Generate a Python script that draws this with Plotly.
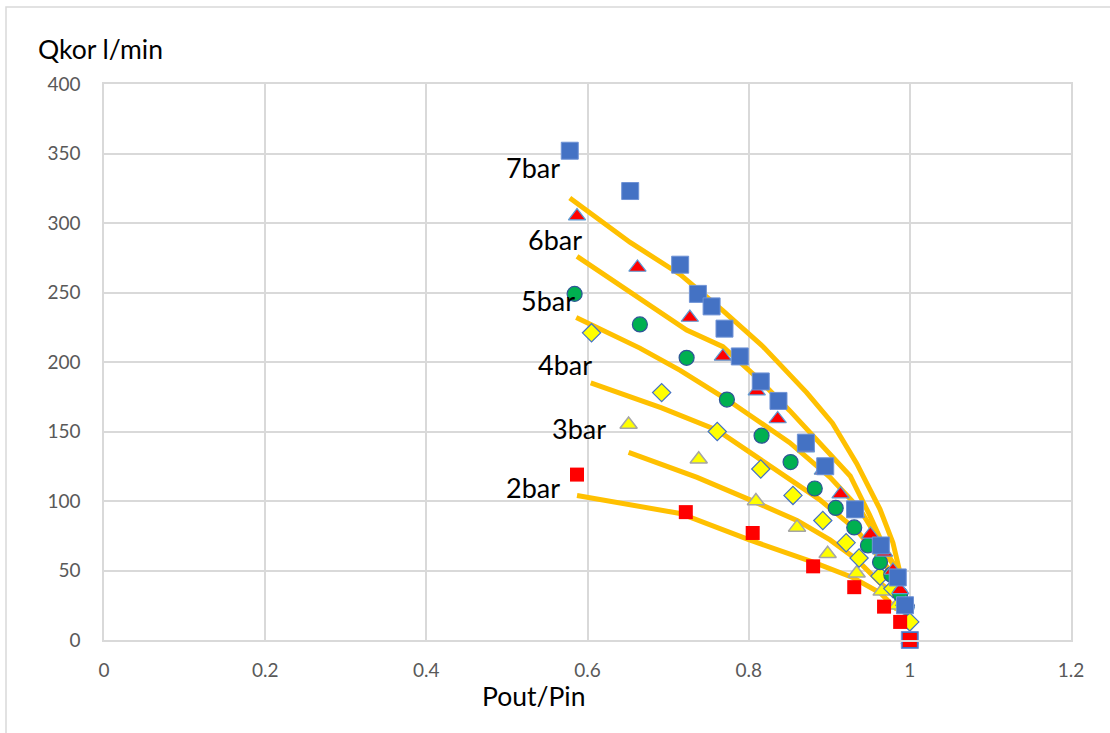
import plotly.graph_objects as go

# ---- measured data (markers) ----
x7 = [0.578, 0.653, 0.715, 0.737, 0.754, 0.770, 0.789, 0.815, 0.837, 0.871, 0.895, 0.932, 0.964, 0.985, 0.994, 1.0]
y7 = [352, 323, 270, 249, 240, 224, 204, 186, 172, 142, 125, 94, 68, 45, 25, 0]

x6 = [0.587, 0.662, 0.727, 0.768, 0.810, 0.836, 0.871, 0.892, 0.914, 0.933, 0.951, 0.968, 0.979, 0.988, 0.995, 1.0]
y6 = [305, 268, 232, 204, 179, 159, 138, 122, 105, 91, 76, 63, 50, 36, 26, 0]

x5 = [0.584, 0.665, 0.723, 0.773, 0.816, 0.852, 0.882, 0.908, 0.931, 0.948, 0.963, 0.977, 0.988, 0.996, 1.0]
y5 = [249, 227, 203, 173, 147, 128, 109, 95, 81, 68, 56, 47, 33, 24, 0]

x4 = [0.605, 0.692, 0.761, 0.815, 0.855, 0.892, 0.921, 0.937, 0.963, 0.979, 0.994, 1.0]
y4 = [221, 178, 150, 123, 104, 86, 70, 59, 46, 37, 25, 13]

x3 = [0.651, 0.738, 0.809, 0.860, 0.898, 0.934, 0.965, 0.984, 0.995, 1.0]
y3 = [155, 130, 100, 81, 62, 48, 35, 25, 15, 0]

x2 = [0.587, 0.722, 0.805, 0.880, 0.931, 0.968, 0.988, 1.0]
y2 = [119, 92, 77, 53, 38, 24, 13, 0]

# ---- model curves ----
lx7 = [0.578, 0.653, 0.715, 0.768, 0.818, 0.872, 0.904, 0.934, 0.963, 0.979, 0.988]
ly7 = [318, 286, 263, 237, 211, 178, 156, 127, 94, 70, 48]
lx6 = [0.587, 0.723, 0.768, 0.810, 0.851, 0.885, 0.926, 0.950, 0.975, 0.990]
ly6 = [276, 223, 211, 189, 165, 144, 118, 90, 58, 45]
lx5 = [0.586, 0.665, 0.715, 0.773, 0.851, 0.901, 0.938, 0.967, 0.985]
ly5 = [232, 210, 194, 173, 142, 117, 94, 67, 50]
lx4 = [0.604, 0.692, 0.761, 0.839, 0.888, 0.934, 0.971, 0.988]
ly4 = [185, 167, 151, 120, 101, 79, 53, 43]
lx3 = [0.651, 0.736, 0.801, 0.860, 0.901, 0.934, 0.963, 0.984]
ly3 = [135, 117, 101, 86, 72, 58, 41, 31]
lx2 = [0.587, 0.715, 0.801, 0.880, 0.929, 0.963, 0.984]
ly2 = [104, 91, 72, 56, 45, 34, 22]

labels = ["7bar", "6bar", "5bar", "4bar", "3bar", "2bar"]
label_x = [0.532, 0.560, 0.551, 0.572, 0.590, 0.532]
label_y = [340, 288, 244, 198, 152, 110]

x_ticks = [0, 0.2, 0.4, 0.6, 0.8, 1, 1.2]
x_tick_text = ["0", "0.2", "0.4", "0.6", "0.8", "1", "1.2"]
y_ticks = [0, 50, 100, 150, 200, 250, 300, 350, 400]

FONT = "Lato, Carlito, Calibri, sans-serif"
ORANGE = "#FFC000"

fig = go.Figure()

for lx, ly in [(lx7, ly7), (lx6, ly6), (lx5, ly5), (lx4, ly4), (lx3, ly3), (lx2, ly2)]:
    fig.add_trace(go.Scatter(x=lx, y=ly, mode="lines",
                             line=dict(color=ORANGE, width=5), showlegend=False,
                             hoverinfo="skip"))

fig.add_trace(go.Scatter(x=x3, y=y3, mode="markers", cliponaxis=False,
                         marker=dict(symbol="triangle-up", size=15, color="#FFFF00",
                                     line=dict(color="#A5A5A5", width=1.5)), showlegend=False))
fig.add_trace(go.Scatter(x=x4, y=y4, mode="markers", cliponaxis=False,
                         marker=dict(symbol="diamond", size=14, color="#FFFF00",
                                     line=dict(color="#4472C4", width=1.2)), showlegend=False))
fig.add_trace(go.Scatter(x=x5, y=y5, mode="markers", cliponaxis=False,
                         marker=dict(symbol="circle", size=15, color="#00B050",
                                     line=dict(color="#2F5597", width=1.2)), showlegend=False))
fig.add_trace(go.Scatter(x=x6, y=y6, mode="markers", cliponaxis=False,
                         marker=dict(symbol="triangle-up", size=15, color="#FF0000",
                                     line=dict(color="#5B9BD5", width=1.2)), showlegend=False))
fig.add_trace(go.Scatter(x=x7, y=y7, mode="markers", cliponaxis=False,
                         marker=dict(symbol="square", size=17, color="#4472C4",
                                     line=dict(color="#6F93D6", width=1)), showlegend=False))
fig.add_trace(go.Scatter(x=x2, y=y2, mode="markers", cliponaxis=False,
                         marker=dict(symbol="square", size=14, color="#FF0000",
                                     line=dict(color="#FF0000", width=0)), showlegend=False))

for t, lxp, lyp in zip(labels, label_x, label_y):
    fig.add_annotation(x=lxp, y=lyp, text=t, showarrow=False, xref="x", yref="y",
                       font=dict(family=FONT, size=27, color="#000000"))

W, H = 1110, 733
L, R, T, B = 104, 1071, 84, 640
def px(xp):
    return (xp - L) / (R - L)
def py(yp):
    return (B - yp) / (B - T)

fig.add_annotation(x=px(36), y=py(49), xref="paper", yref="paper", text="Qkor l/min",
                   showarrow=False, xanchor="left", yanchor="middle",
                   font=dict(family=FONT, size=26.5, color="#000000"))
fig.add_annotation(x=px(533), y=py(696), xref="paper", yref="paper", text="Pout/Pin",
                   showarrow=False, xanchor="center", yanchor="middle",
                   font=dict(family=FONT, size=26.5, color="#000000"))

fig.add_shape(type="rect", xref="paper", yref="paper",
              x0=px(6), x1=px(1125), y0=py(745), y1=py(7),
              line=dict(color="#D9D9D9", width=1.5), fillcolor="rgba(0,0,0,0)", layer="below")

fig.update_layout(
    width=W, height=H,
    margin=dict(l=L, r=W - R, t=T, b=H - B),
    paper_bgcolor="white", plot_bgcolor="white",
    font=dict(family=FONT, size=19, color="#595959"),
)
fig.update_xaxes(range=[0, 1.2], tickvals=x_ticks, ticktext=x_tick_text,
                 showgrid=True, gridcolor="#D9D9D9", gridwidth=1.5,
                 showline=True, linecolor="#D9D9D9", linewidth=1.5, mirror=True,
                 zeroline=False, ticks="outside", ticklen=12, tickcolor="rgba(0,0,0,0)",
                 tickfont=dict(family=FONT, size=19, color="#595959"))
fig.update_yaxes(range=[0, 400], tickvals=y_ticks,
                 showgrid=True, gridcolor="#D9D9D9", gridwidth=1.5,
                 showline=True, linecolor="#D9D9D9", linewidth=1.5, mirror=True,
                 zeroline=False, ticks="outside", ticklen=18, tickcolor="rgba(0,0,0,0)",
                 tickfont=dict(family=FONT, size=19, color="#595959"))

fig.write_html("out.html")
